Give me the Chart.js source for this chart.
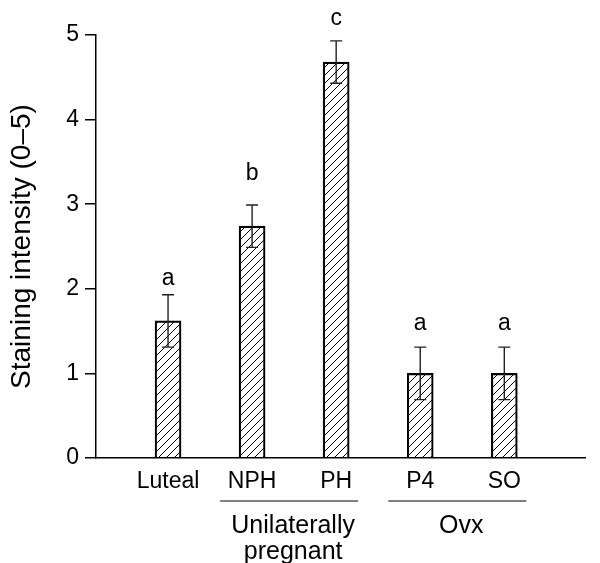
<!DOCTYPE html>
<html lang="en">
<head>
<meta charset="UTF-8">
<title>Staining intensity</title>
<script src="https://cdn.jsdelivr.net/npm/chart.js"></script>
<style>
    html, body { margin: 0; padding: 0; background: #fff; }
    canvas { display: block; }
</style>
</head>
<body>
<canvas id="chart" width="600" height="563"></canvas>
<script>
// data
const categories = ['Luteal', 'NPH', 'PH', 'P4', 'SO'];
const intensity = [1.62, 2.74, 4.68, 1.0, 1.0];
const errors = [0.31, 0.25, 0.25, 0.31, 0.31];
const letters = ['a', 'b', 'c', 'a', 'a'];
const letterY = [2.04, 3.29, 5.12, 1.51, 1.51];
const yTicks = [0, 1, 2, 3, 4, 5];
const groupNames = [['Unilaterally', 'pregnant'], ['Ovx']];
const groupMembers = [[1, 2], [3, 4]];

const FONT = 'Liberation Sans, Arial, sans-serif';

// diagonal hatch fill
function makeHatch() {
    const c = document.createElement('canvas');
    c.width = 8; c.height = 8;
    const g = c.getContext('2d');
    g.strokeStyle = '#000';
    g.lineWidth = 1;
    g.beginPath();
    g.moveTo(-1, 9); g.lineTo(9, -1);
    g.moveTo(-1, 1); g.lineTo(1, -1);
    g.moveTo(7, 9); g.lineTo(9, 7);
    g.stroke();
    return g.createPattern(c, 'repeat');
}

const annotations = {
    id: 'annotations',
    afterDatasetsDraw(chart) {
        const ctx = chart.ctx;
        const xs = chart.scales.x, ys = chart.scales.y;
        const meta = chart.getDatasetMeta(0);
        ctx.save();
        // error bars
        ctx.strokeStyle = '#222';
        ctx.lineWidth = 1.4;
        meta.data.forEach((bar, i) => {
            const top = ys.getPixelForValue(intensity[i] + errors[i]);
            const bot = ys.getPixelForValue(intensity[i] - errors[i]);
            ctx.beginPath();
            ctx.moveTo(bar.x, top); ctx.lineTo(bar.x, bot);
            ctx.moveTo(bar.x - 6, top); ctx.lineTo(bar.x + 6, top);
            ctx.moveTo(bar.x - 6, bot); ctx.lineTo(bar.x + 6, bot);
            ctx.stroke();
        });
        // significance letters
        ctx.fillStyle = '#000';
        ctx.font = '23px ' + FONT;
        ctx.textAlign = 'center';
        ctx.textBaseline = 'alphabetic';
        meta.data.forEach((bar, i) => {
            ctx.fillText(letters[i], bar.x, ys.getPixelForValue(letterY[i]));
        });
        // group brackets under the axis
        ctx.strokeStyle = '#000';
        ctx.lineWidth = 1.2;
        ctx.font = '25px ' + FONT;
        groupMembers.forEach((m, gi) => {
            const x0 = xs.getPixelForValue(m[0]) - 32;
            const x1 = xs.getPixelForValue(m[m.length - 1]) + 22;
            const ly = ys.bottom + 43;
            ctx.beginPath();
            ctx.moveTo(x0, ly); ctx.lineTo(x1, ly);
            ctx.stroke();
            const cx = (x0 + x1) / 2 + 4;
            groupNames[gi].forEach((t, li) => {
                ctx.fillText(t, cx, ly + 32 + li * 26);
            });
        });
        ctx.restore();
    }
};

new Chart(document.getElementById('chart'), {
    type: 'bar',
    data: {
        datasets: [{
            data: intensity.map((v, i) => ({ x: i, y: v })),
            backgroundColor: makeHatch(),
            borderColor: '#000',
            borderWidth: 1.5,
            barThickness: 26
        }]
    },
    options: {
        responsive: false,
        animation: false,
        devicePixelRatio: 1,
        layout: { padding: { top: 35, right: 15, left: 0, bottom: 0 } },
        plugins: { legend: { display: false }, tooltip: { enabled: false } },
        scales: {
            x: {
                type: 'linear',
                offset: false,
                min: -0.857,
                max: 4.96,
                afterBuildTicks: s => { s.ticks = categories.map((c, i) => ({ value: i })); },
                afterFit: s => { s.height = 105; },
                grid: { display: false, drawTicks: false },
                border: { display: true, color: '#000', width: 1.5 },
                ticks: {
                    color: '#000',
                    font: { family: FONT, size: 23 },
                    padding: 10,
                    maxRotation: 0,
                    autoSkip: false,
                    callback: v => categories[v]
                }
            },
            y: {
                min: 0,
                max: 5,
                afterBuildTicks: s => { s.ticks = yTicks.map(v => ({ value: v })); },
                afterFit: s => { s.width = 96; },
                grid: { drawOnChartArea: false, drawTicks: true, tickLength: 11, color: '#000', lineWidth: 1.5 },
                border: { display: true, color: '#000', width: 1.5 },
                ticks: { color: '#000', font: { family: FONT, size: 23 }, padding: 6 },
                title: {
                    display: true,
                    text: 'Staining intensity (0–5)',
                    color: '#000',
                    font: { family: FONT, size: 28 },
                    padding: { top: 5, bottom: 0 }
                }
            }
        }
    },
    plugins: [annotations]
});
</script>
</body>
</html>
